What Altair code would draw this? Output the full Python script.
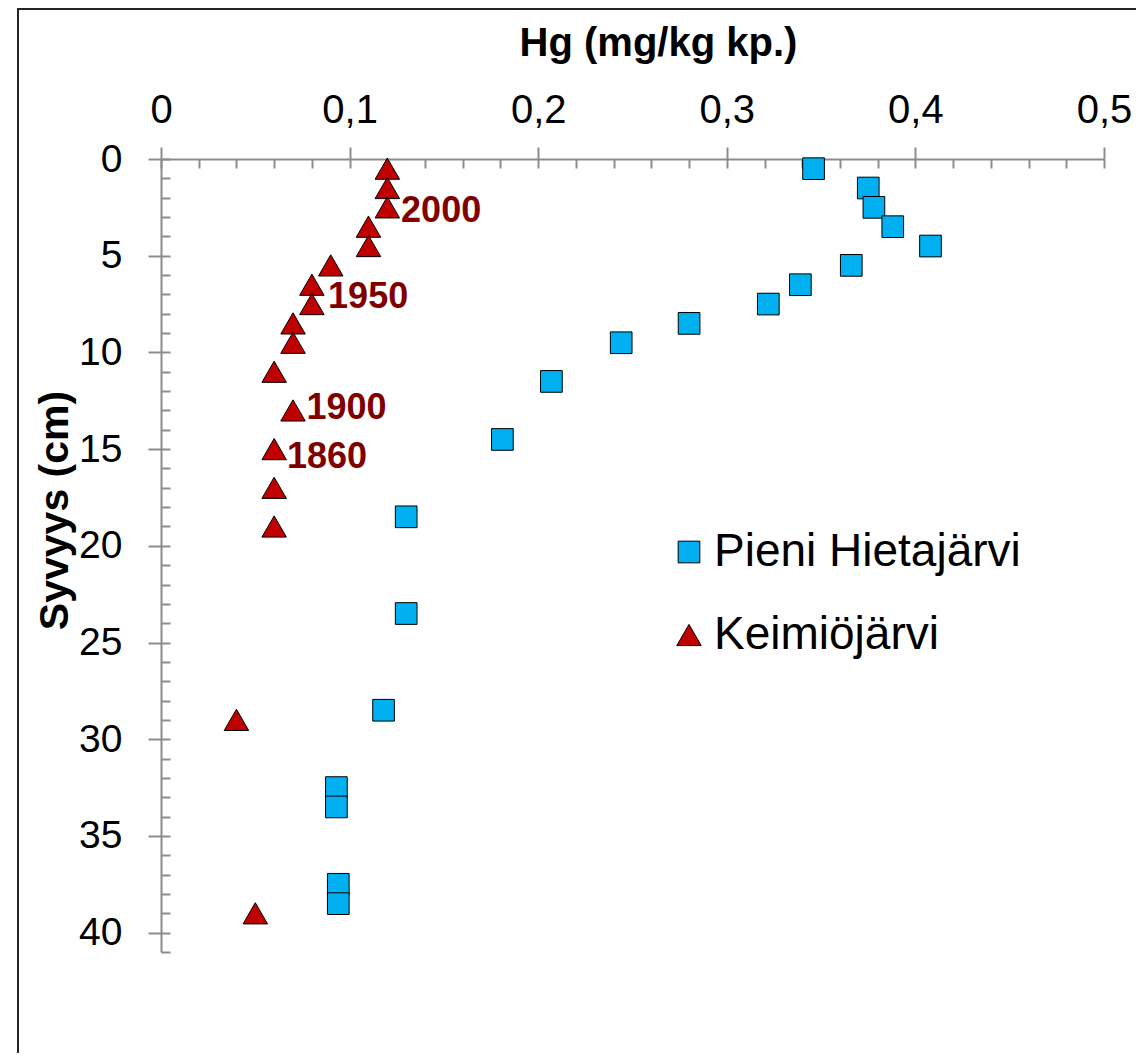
import altair as alt
import pandas as pd

# ---- data ----
pieni_name = "Pieni Hietajärvi"
pieni_hg = [0.346, 0.375, 0.378, 0.388, 0.408, 0.366, 0.339, 0.322, 0.280, 0.244,
            0.207, 0.181, 0.130, 0.130, 0.118, 0.093, 0.093, 0.094, 0.094]
pieni_depth = [0.5, 1.5, 2.5, 3.5, 4.5, 5.5, 6.5, 7.5, 8.5, 9.5,
               11.5, 14.5, 18.5, 23.5, 28.5, 32.5, 33.5, 37.5, 38.5]

keimio_name = "Keimiöjärvi"
keimio_hg = [0.12, 0.12, 0.12, 0.11, 0.11, 0.09, 0.08, 0.08, 0.07, 0.07,
             0.06, 0.07, 0.06, 0.06, 0.06, 0.04, 0.05]
keimio_depth = [0.5, 1.5, 2.5, 3.5, 4.5, 5.5, 6.5, 7.5, 8.5, 9.5,
                11, 13, 15, 17, 19, 29, 39]

year_labels = ["2000", "1950", "1900", "1860"]
year_hg = [0.1273, 0.0886, 0.0771, 0.0668]
year_depth = [2.69, 7.14, 12.89, 15.43]

x_major = [0, 0.1, 0.2, 0.3, 0.4, 0.5]
x_minor = [round(i * 0.02, 2) for i in range(26)]
y_major = [0, 5, 10, 15, 20, 25, 30, 35, 40]
y_minor = list(range(0, 42))

series_order = [pieni_name, keimio_name]

points = pd.DataFrame({
    "hg": pieni_hg + keimio_hg,
    "depth": pieni_depth + keimio_depth,
    "series": [pieni_name] * len(pieni_hg) + [keimio_name] * len(keimio_hg),
})
labels = pd.DataFrame({"hg": year_hg, "depth": year_depth, "label": year_labels})

FONT = "Liberation Sans"
GRAY = "#8c8c8c"

xscale = alt.Scale(domain=[0, 0.5], nice=False, zero=False)
yscale = alt.Scale(domain=[0, 41], nice=False, zero=False, reverse=True)

x_main_axis = alt.Axis(
    orient="top", values=x_major,
    labelExpr="replace(format(datum.value, '.1~f'), '.', ',')",
    tickSize=12, tickWidth=2, tickColor=GRAY,
    domainColor=GRAY, domainWidth=2, grid=False,
    labelFont=FONT, labelFontSize=40, labelColor="black", labelPadding=17,
    labelFlush=False, labelOverlap=False,
    title="Hg (mg/kg kp.)", titleFont=FONT, titleFontSize=40, titleFontWeight="bold",
    titleColor="black", titleX=497, titleY=-104, titleBaseline="alphabetic",
    titleAlign="center",
)
y_main_axis = alt.Axis(
    orient="left", values=y_major,
    tickSize=13, tickWidth=2, tickColor=GRAY,
    domainColor=GRAY, domainWidth=2, grid=False,
    labelFont=FONT, labelFontSize=39, labelColor="black", labelPadding=26,
    labelFlush=False, labelOverlap=False,
    title="Syvyys (cm)", titleFont=FONT, titleFontSize=41, titleFontWeight="bold",
    titleColor="black", titleX=-94, titleY=351, titleAngle=270,
    titleBaseline="alphabetic", titleAlign="center",
)
x_minor_axis = alt.Axis(
    orient="top", values=x_minor, offset=-9, tickSize=9, tickWidth=2,
    tickColor=GRAY, domain=False, labels=False, grid=False, title=None,
)
y_minor_axis = alt.Axis(
    orient="left", values=y_minor, offset=-9, tickSize=9, tickWidth=2,
    tickColor=GRAY, domain=False, labels=False, grid=False, title=None,
)

pts = alt.Chart(points).mark_point(
    filled=True, opacity=1, stroke="black", strokeWidth=1
).encode(
    x=alt.X("hg:Q", scale=xscale, axis=x_main_axis),
    y=alt.Y("depth:Q", scale=yscale, axis=y_main_axis),
    color=alt.Color("series:N", scale=alt.Scale(domain=series_order, range=["#00B0F0", "#C00000"]),
                    legend=alt.Legend(title=None, orient="none", legendX=505, legendY=370,
                                      padding=0, symbolSize=484, symbolStrokeColor="black",
                                      symbolStrokeWidth=1, labelFont=FONT, labelFontSize=46,
                                      labelColor="black", labelOffset=2, rowPadding=37,
                                      labelLimit=600, symbolOpacity=1)),
    shape=alt.Shape("series:N", scale=alt.Scale(domain=series_order, range=["square", "triangle-up"])),
    size=alt.Size("series:N", scale=alt.Scale(domain=series_order, range=[470, 600]), legend=None),
)

txt = alt.Chart(labels).mark_text(
    align="left", baseline="middle", font=FONT, fontSize=36, fontWeight="bold", color="#800000"
).encode(
    x=alt.X("hg:Q", scale=xscale, axis=x_minor_axis),
    y=alt.Y("depth:Q", scale=yscale, axis=y_minor_axis),
    text="label:N",
)

border = alt.Chart(pd.DataFrame({"k": [0]})).mark_rect(
    fill="transparent", stroke="#262626", strokeWidth=2
).encode(
    x=alt.value(-143), x2=alt.value(1200), y=alt.value(-150), y2=alt.value(1100)
)

chart = alt.layer(border, pts, txt).resolve_axis(
    x="independent", y="independent"
).resolve_scale(x="shared", y="shared").properties(
    width=943, height=793,
    autosize=alt.AutoSizeParams(type="none"),
    padding={"left": 153, "top": 151, "right": 32, "bottom": 101},
    background="white",
).configure_view(strokeWidth=0)

chart.save("out.html", embed_options={"renderer": "svg", "actions": False})
